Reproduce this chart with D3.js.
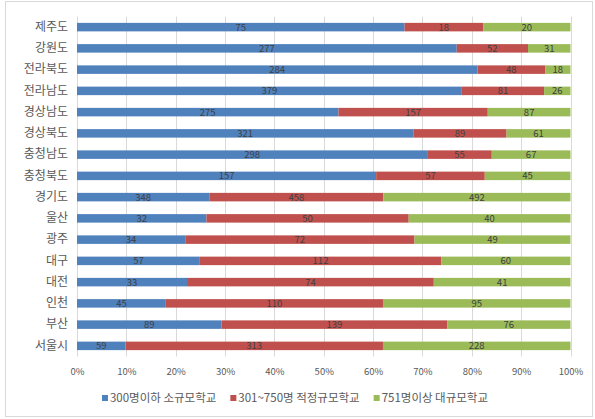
<!DOCTYPE html>
<html><head><meta charset="utf-8">
<script src="https://cdn.jsdelivr.net/npm/d3@7"></script>
<style>body{margin:0;background:#fff}svg{display:block}</style>
</head><body>
<script>
const regions = ["제주도","강원도","전라북도","전라남도","경상남도","경상북도","충청남도","충청북도","경기도","울산","광주","대구","대전","인천","부산","서울시"];
const small = [75,277,284,379,275,321,298,157,348,32,34,57,33,45,89,59];
const medium = [18,52,48,81,157,89,55,57,458,50,72,112,74,110,139,313];
const large = [20,31,18,26,87,61,67,45,492,40,49,60,41,95,76,228];
const seriesNames = ["300명이하 소규모학교","301~750명 적정규모학교","751명이상 대규모학교"];
const colors = ["#4F81BD","#C0504D","#9BBB59"];
const tickValues = [0,0.1,0.2,0.3,0.4,0.5,0.6,0.7,0.8,0.9,1.0];

const W=595,H=419;
const font='"Noto Sans CJK KR","Noto Sans",sans-serif';
const svg=d3.select("body").append("svg").attr("width",W).attr("height",H);
svg.append("rect").attr("x",5.5).attr("y",1.5).attr("width",587).attr("height",415)
  .attr("fill","#fff").attr("stroke","#d9d9d9");

const x=d3.scaleLinear().domain([0,1]).range([77,570.5]);
const y=d3.scaleBand().domain(regions).range([16.5,356.5]).paddingInner(0.6).paddingOuter(0.3);

// gridlines
svg.append("g").selectAll("line").data(tickValues).join("line")
  .attr("x1",d=>Math.round(x(d))+0.5).attr("x2",d=>Math.round(x(d))+0.5)
  .attr("y1",16.5).attr("y2",356.5).attr("stroke","#d9d9d9");

const rows=regions.map((r,i)=>{
  const vals=[small[i],medium[i],large[i]];
  const tot=d3.sum(vals);
  let acc=0;
  return vals.map((v,k)=>{const s=acc/tot; acc+=v; return {r,k,v,s,e:acc/tot};});
}).flat();

svg.append("g").selectAll("rect").data(rows).join("rect")
  .attr("x",d=>x(d.s)).attr("width",d=>x(d.e)-x(d.s))
  .attr("y",d=>y(d.r)).attr("height",y.bandwidth())
  .attr("fill",d=>colors[d.k]);

svg.append("g").selectAll("text").data(rows).join("text")
  .attr("x",d=>(x(d.s)+x(d.e))/2).attr("y",d=>y(d.r)+y.bandwidth()/2)
  .attr("dy","0.36em").attr("text-anchor","middle")
  .attr("font-family",font).attr("font-size",9.5).attr("fill","#404040")
  .text(d=>d.v);

// y axis labels
const ya=svg.append("g").attr("transform","translate(68,0)")
  .call(d3.axisLeft(y).tickSize(0).tickPadding(0));
ya.select(".domain").remove();
ya.selectAll("text").attr("font-family",font).attr("font-size",12).attr("fill","#595959");

// x axis
const xa=svg.append("g").attr("transform","translate(0,366)")
  .call(d3.axisBottom(x).tickValues(tickValues).tickFormat(d3.format(".0%")).tickSize(0).tickPadding(2));
xa.select(".domain").remove();
xa.selectAll("text").attr("font-family",font).attr("font-size",9.5).attr("fill","#595959");

// legend
const leg=svg.append("g");
const items=leg.selectAll("g").data(seriesNames).join("g");
items.append("rect").attr("width",6).attr("height",6).attr("y",-3).attr("fill",(d,i)=>colors[i]);
items.append("text").attr("x",8).attr("dy","0.36em")
  .attr("font-family",font).attr("font-size",11.5).attr("fill","#595959").text(d=>d);
const widths=[];
items.each(function(){widths.push(this.getBBox().width);});
const gap=14;
const total=d3.sum(widths)+gap*(widths.length-1);
let cx=(75+515)/2-total/2;
items.attr("transform",(d,i)=>{const t=`translate(${cx},398)`; cx+=widths[i]+gap; return t;});
</script>
</body></html>
